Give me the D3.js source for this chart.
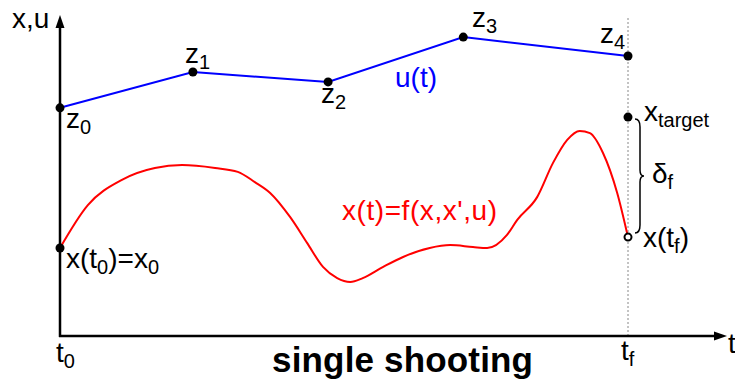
<!DOCTYPE html>
<html>
<head>
<meta charset="utf-8">
<script src="https://cdn.jsdelivr.net/npm/d3@7"></script>
<style>
  html, body { margin: 0; padding: 0; background: #fff; }
  svg { display: block; }
  text { font-family: "Liberation Sans", Arial, sans-serif; }
</style>
</head>
<body>
<div id="chart"></div>
<script>
// ---- data ----
const uTimes  = [0, 2.34, 4.72, 7.10, 10];
const uValues = [7.13, 8.25, 7.94, 9.34, 8.75];
const uLabels = ["0", "1", "2", "3", "4"];

const xTimes  = [0, 0.49, 1.09, 1.67, 2.15, 2.73, 3.13, 3.43, 3.70, 4.05, 4.35, 4.63, 4.88, 5.11, 5.33, 5.69, 6.04, 6.51, 6.87, 7.27, 7.52, 7.87, 8.05, 8.40, 8.68, 8.93, 9.15, 9.33, 9.56, 9.81, 10];
const xValues = [2.75, 4.09, 4.88, 5.25, 5.34, 5.25, 5.13, 4.81, 4.47, 3.72, 2.91, 2.16, 1.81, 1.69, 1.81, 2.16, 2.47, 2.75, 2.84, 2.78, 2.75, 3.16, 3.63, 4.34, 5.41, 6.13, 6.41, 6.34, 5.72, 4.47, 3.09];

const t0 = 0, tf = 10;
const xTarget = 6.84;
const xStart = 2.75;
const xEnd = 3.09;

const W = 735, H = 387;
const svg = d3.select("#chart").append("svg").attr("width", W).attr("height", H);

const tScale = d3.scaleLinear().domain([0, 10]).range([60, 628]);
const vScale = d3.scaleLinear().domain([0, 10]).range([336, 16]);

const ox = tScale(0), oy = vScale(0);

// dotted vertical at tf
svg.append("line")
  .attr("x1", tScale(tf)).attr("x2", tScale(tf))
  .attr("y1", 18).attr("y2", oy)
  .attr("stroke", "#888").attr("stroke-width", 1).attr("stroke-dasharray", "2,2");

// axes
svg.append("line").attr("x1", ox).attr("x2", ox).attr("y1", oy + 1).attr("y2", 26)
  .attr("stroke", "#000").attr("stroke-width", 2.5);
svg.append("line").attr("x1", ox - 1).attr("x2", 716).attr("y1", oy).attr("y2", oy)
  .attr("stroke", "#000").attr("stroke-width", 2.5);
svg.append("path").attr("d", `M${ox},15 L${ox - 4.5},28 L${ox + 4.5},28 Z`).attr("fill", "#000");
svg.append("path").attr("d", `M727,${oy} L714,${oy - 4.5} L714,${oy + 4.5} Z`).attr("fill", "#000");

// u(t) polyline
const uPts = uTimes.map((t, i) => [t, uValues[i]]);
svg.append("path")
  .attr("d", d3.line().x(d => tScale(d[0])).y(d => vScale(d[1]))(uPts))
  .attr("fill", "none").attr("stroke", "#0000ff").attr("stroke-width", 2);

// x(t) curve
const xPts = xTimes.map((t, i) => [t, xValues[i]]);
svg.append("path")
  .attr("d", d3.line().curve(d3.curveMonotoneX).x(d => tScale(d[0])).y(d => vScale(d[1]))(xPts))
  .attr("fill", "none").attr("stroke", "#ff0000").attr("stroke-width", 2);

// points
svg.selectAll("circle.z").data(uPts).enter().append("circle")
  .attr("cx", d => tScale(d[0])).attr("cy", d => vScale(d[1])).attr("r", 4.5).attr("fill", "#000");
svg.append("circle").attr("cx", tScale(tf)).attr("cy", vScale(xTarget)).attr("r", 4.5).attr("fill", "#000");
svg.append("circle").attr("cx", tScale(t0)).attr("cy", vScale(xStart)).attr("r", 4.5).attr("fill", "#000");
svg.append("circle").attr("cx", tScale(tf)).attr("cy", vScale(xEnd)).attr("r", 3.5)
  .attr("fill", "#fff").attr("stroke", "#000").attr("stroke-width", 2);

// brace
const by1 = vScale(xTarget) + 2, by2 = vScale(xEnd) - 4, bm = (by1 + by2) / 2;
const bx = 640;
svg.append("path")
  .attr("d", `M${bx - 5},${by1} Q${bx},${by1} ${bx},${by1 + 8} L${bx},${bm - 6} Q${bx},${bm} ${bx + 4},${bm} Q${bx},${bm} ${bx},${bm + 6} L${bx},${by2 - 8} Q${bx},${by2} ${bx - 5},${by2}`)
  .attr("fill", "none").attr("stroke", "#000").attr("stroke-width", 1.5);

// labels helper
function label(x, y, main, sub, color, mainSize, subSize, tail, subDy) {
  const t = svg.append("text").attr("x", x).attr("y", y).attr("fill", color || "#000")
    .style("font-size", (mainSize || 28) + "px");
  t.append("tspan").text(main);
  if (sub) t.append("tspan").attr("dy", subDy || 6).style("font-size", (subSize || 20) + "px").text(sub);
  if (tail) t.append("tspan").attr("dy", -(subDy || 6)).text(tail);
  return t;
}

label(12, 28, "x,u");
// z labels
const zLabelPos = [[66, 128], [185, 63], [321, 103], [472, 27], [600, 43]];
uLabels.forEach((s, i) => label(zLabelPos[i][0], zLabelPos[i][1], "z", s));

svg.append("text").attr("x", 395).attr("y", 87).attr("fill", "#0000ff").style("font-size", "28px").text("u(t)");
svg.append("text").attr("x", 342).attr("y", 220).attr("fill", "#ff0000").style("font-size", "28px")
  .attr("textLength", 155).text("x(t)=f(x,x',u)");

label(644, 121, "x", "target");
label(652, 183, "δ", "f");
label(643, 247, "x(t", "f", "#000", 28, 20, ")");

// x(t0)=x0
{
  const t = svg.append("text").attr("x", 66).attr("y", 268).style("font-size", "28px");
  t.append("tspan").text("x(t");
  t.append("tspan").attr("dy", 6).style("font-size", "20px").text("0");
  t.append("tspan").attr("dy", -6).text(")=x");
  t.append("tspan").attr("dy", 6).style("font-size", "20px").text("0");
}

label(56, 362, "t", "0");
label(621, 360, "t", "f");
svg.append("text").attr("x", 728).attr("y", 353).style("font-size", "28px").text("t");

svg.append("text").attr("x", 272).attr("y", 372).style("font-size", "35px").style("font-weight", "bold")
  .attr("textLength", 261).text("single shooting");
</script>
</body>
</html>
